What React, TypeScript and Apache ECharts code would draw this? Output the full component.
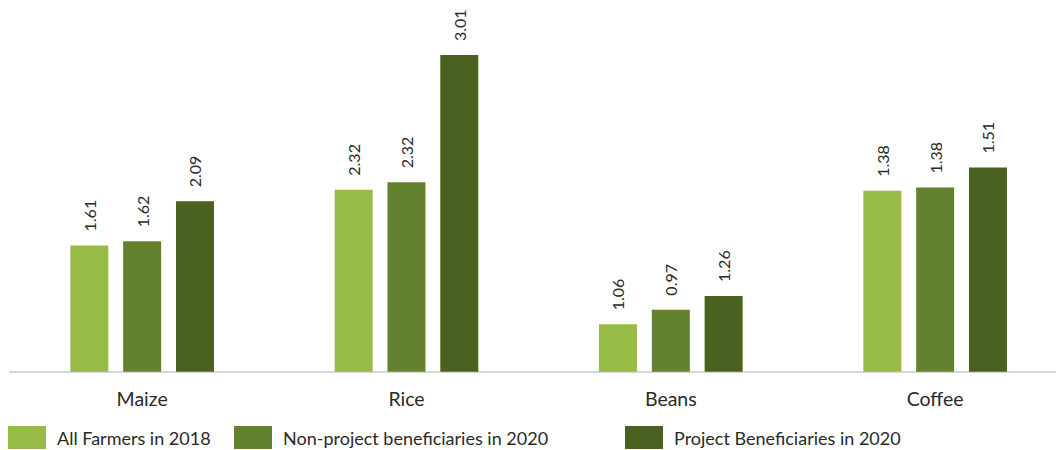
import React, { useEffect, useRef } from "react";
import * as echarts from "echarts";

const categories = ["Maize", "Rice", "Beans", "Coffee"];
const seriesNames = [
  "All Farmers in 2018",
  "Non-project beneficiaries in 2020",
  "Project Beneficiaries in 2020",
];
// values printed on the bars
const labelsAll2018 = [1.61, 2.32, 1.06, 1.38];
const labelsNonProject2020 = [1.62, 2.32, 0.97, 1.38];
const labelsProject2020 = [2.09, 3.01, 1.26, 1.51];
// bar heights as drawn in the picture (the original chart's bars are not to label scale)
const heightsAll2018 = [1.2, 1.73, 0.45, 1.72];
const heightsNonProject2020 = [1.24, 1.8, 0.59, 1.75];
const heightsProject2020 = [1.62, 3.01, 0.72, 1.94];

const colors = ["#97BC46", "#63822F", "#48611F"];
const legendLefts = [8, 234, 625];
const FONT = "Lato";
const TEXT = "#2a2a2a";

export default function App() {
  const ref = useRef<HTMLDivElement>(null);
  useEffect(() => {
    if (!ref.current) return;
    const chart = echarts.init(ref.current, undefined, { renderer: "svg" });
    const heights = [heightsAll2018, heightsNonProject2020, heightsProject2020];
    const labels = [labelsAll2018, labelsNonProject2020, labelsProject2020];
    chart.setOption({
      animation: false,
      textStyle: { fontFamily: FONT },
      grid: { left: 10, right: 2.7, top: 3.5, bottom: 78.3, containLabel: false },
      legend: seriesNames.map((name, i) => ({
        left: legendLefts[i],
        top: 426,
        padding: 0,
        itemWidth: 38,
        itemHeight: 23,
        icon: "rect",
        textStyle: { fontFamily: FONT, fontSize: 18, color: TEXT, padding: [0, 0, 0, 6] },
        data: [name],
      })),
      xAxis: {
        type: "category",
        data: categories,
        axisLine: { show: true, lineStyle: { color: "#d6d6d6", width: 2 } },
        axisTick: { show: false },
        axisLabel: { fontFamily: FONT, fontSize: 19.5, color: TEXT, margin: 17 },
      },
      yAxis: {
        type: "value",
        min: 0,
        max: 3.5,
        show: false,
        splitLine: { show: false },
      },
      series: seriesNames.map((name, i) => ({
        name,
        type: "bar",
        barWidth: 38,
        barGap: "39%",
        itemStyle: { color: colors[i] },
        data: heights[i],
        label: {
          show: true,
          position: "top",
          rotate: 90,
          align: "left",
          verticalAlign: "middle",
          distance: 14,
          fontFamily: FONT,
          fontSize: 16,
          color: TEXT,
          formatter: (p: any) => labels[i][p.dataIndex].toFixed(2),
        },
      })),
    });
    return () => chart.dispose();
  }, []);
  return (
    <div style={{ position: "absolute", left: 0, top: 0, width: 1056, height: 450, overflow: "hidden" }}>
      <div ref={ref} style={{ width: 1070, height: 450 }} />
    </div>
  );
}
